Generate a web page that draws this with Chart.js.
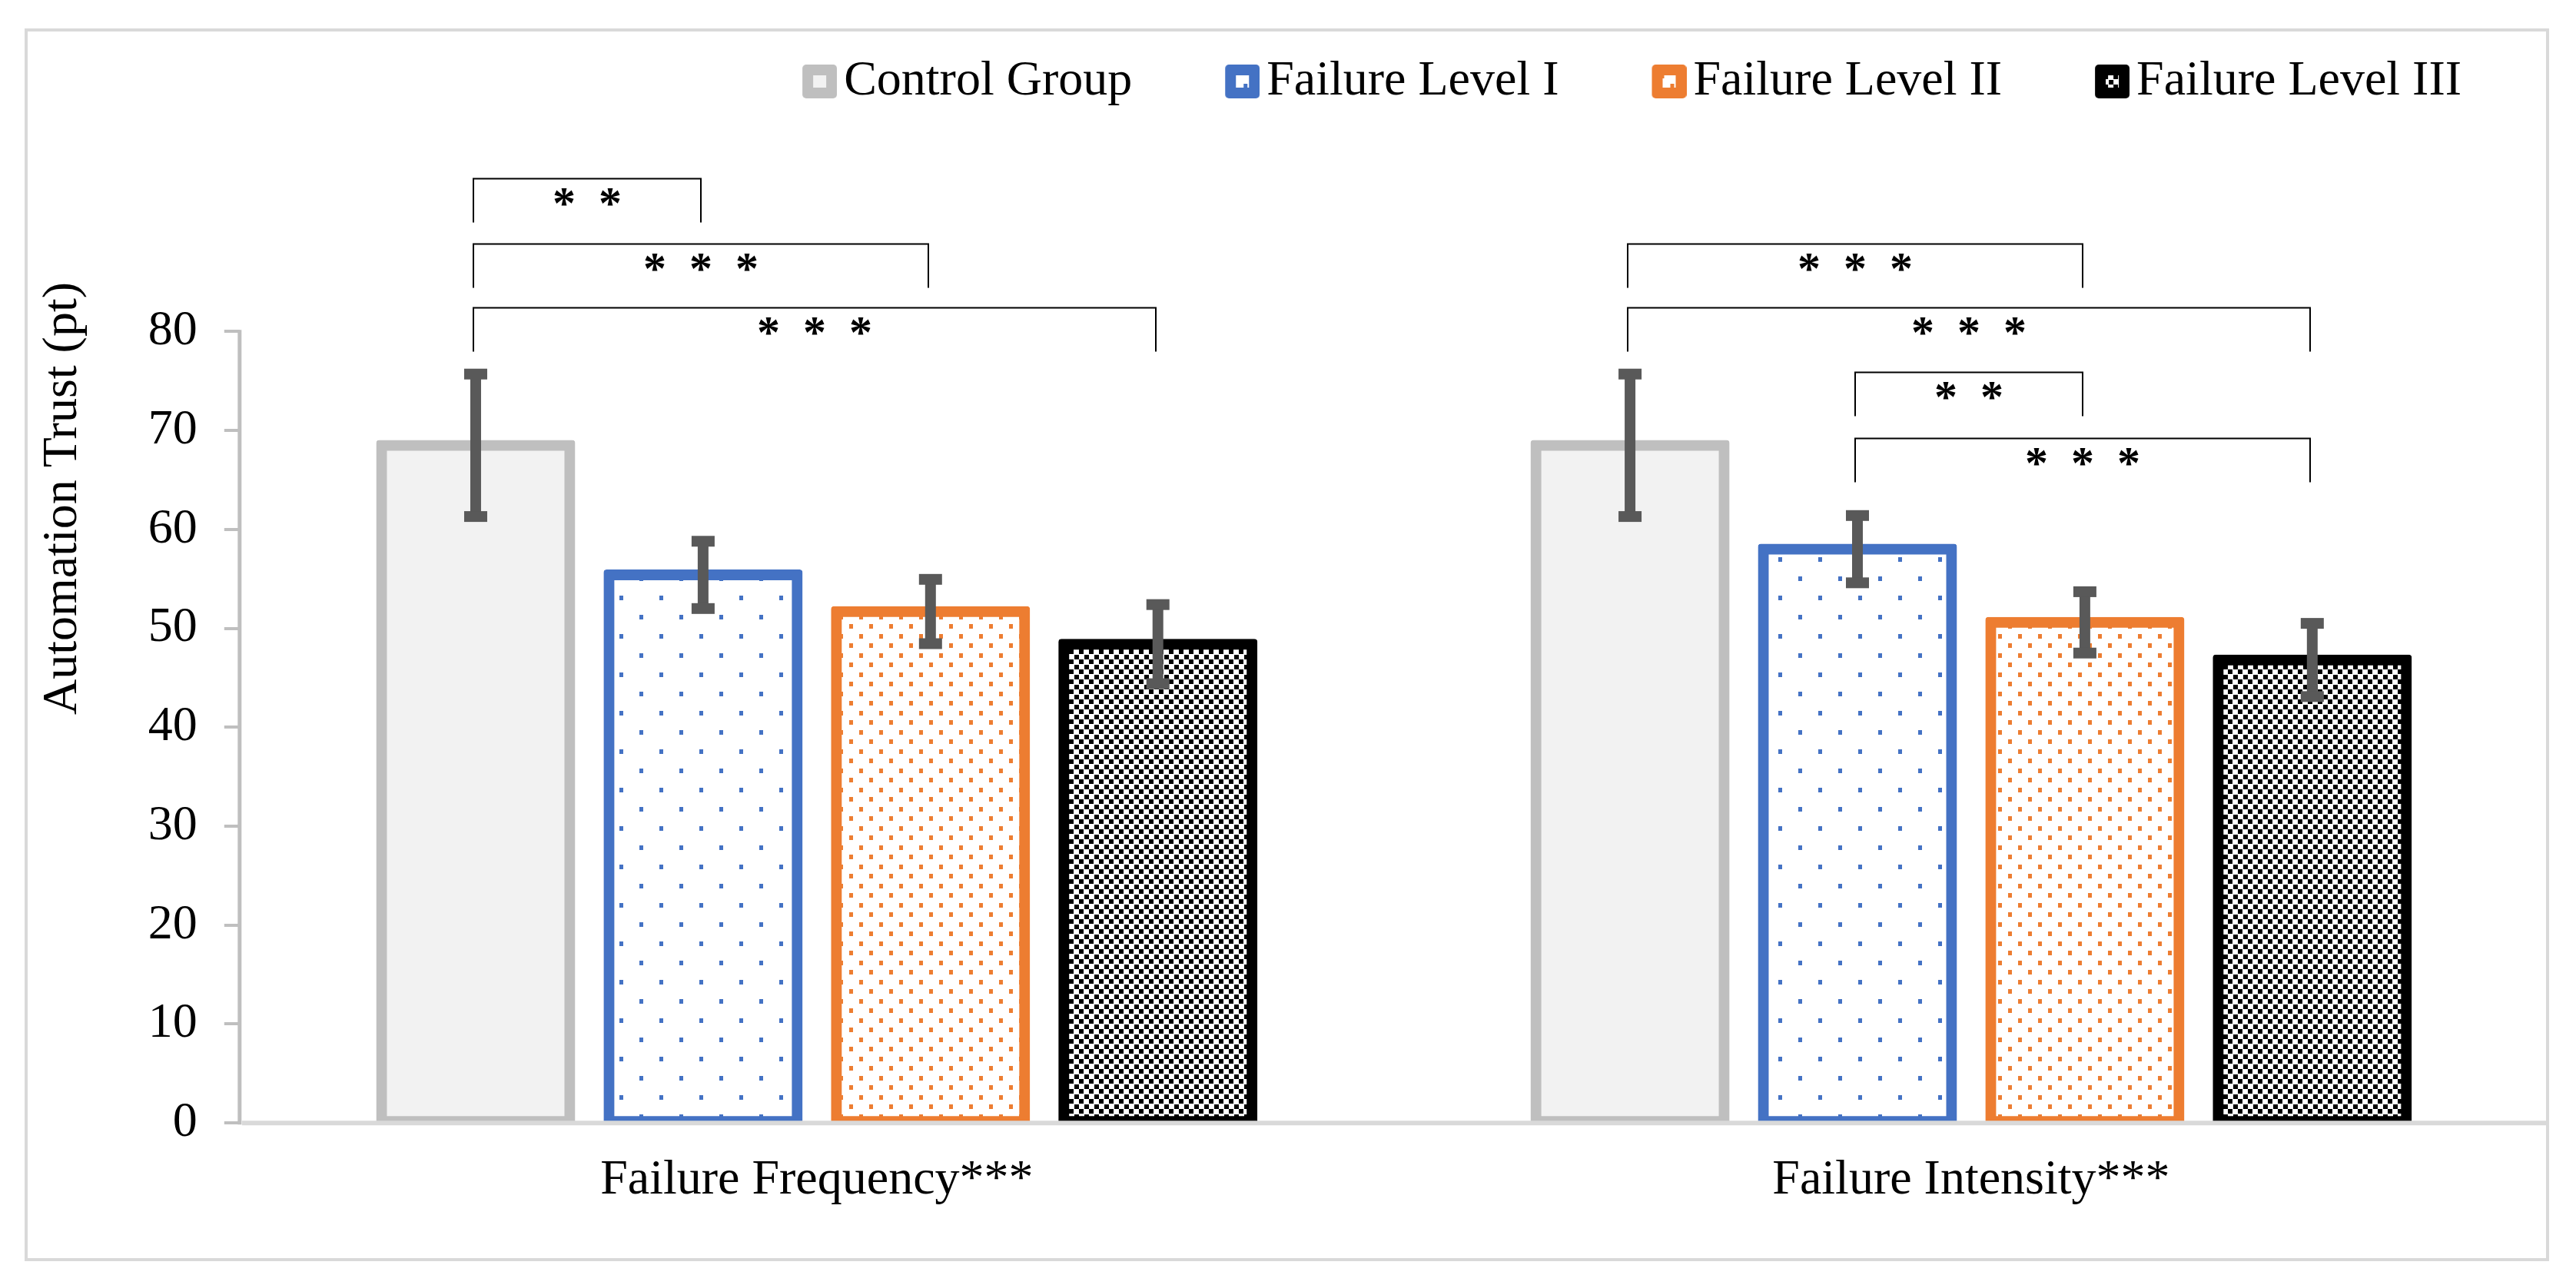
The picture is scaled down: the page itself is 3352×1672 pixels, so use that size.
<!DOCTYPE html>
<html>
<head>
<meta charset="utf-8">
<script src="https://cdn.jsdelivr.net/npm/chart.js@4/dist/chart.umd.min.js"></script>
<style>
  html, body { margin: 0; padding: 0; background: #ffffff; overflow: hidden; }
  canvas { display: block; }
</style>
</head>
<body>
<canvas id="c" width="3352" height="1672"></canvas>
<script>
// ---------------- data ----------------
const categories = ['Failure Frequency***', 'Failure Intensity***'];
const seriesNames = ['Control Group', 'Failure Level I', 'Failure Level II', 'Failure Level III'];

const controlMeans = [68.5, 68.5];
const controlErr   = [7.2, 7.2];
const level1Means  = [55.4, 58.0];
const level1Err    = [3.4, 3.4];
const level2Means  = [51.7, 50.6];
const level2Err    = [3.25, 3.1];
const level3Means  = [48.4, 46.8];
const level3Err    = [4.0, 3.7];

const yTickValues = [0, 10, 20, 30, 40, 50, 60, 70, 80];
const yAxisTitle = 'Automation Trust (pt)';

// significance brackets: category index, from series, to series, bracket height (pt), label
const sigGroup = [0, 0, 0, 1, 1, 1, 1];
const sigFrom  = [0, 0, 0, 0, 0, 1, 1];
const sigTo    = [1, 2, 3, 2, 3, 2, 3];
const sigLevel = [95.5, 88.9, 82.4, 88.9, 82.4, 75.9, 69.2];
const sigLabel = ['*  *', '*  *  *', '*  *  *', '*  *  *', '*  *  *', '*  *', '*  *  *'];

// ---------------- styles ----------------
const FONT = "'Liberation Serif', 'Times New Roman', Times, serif";
Chart.defaults.font.family = FONT;
Chart.defaults.color = '#000000';

function makeTile(w, h, bg, fg, dots) {
  const c = document.createElement('canvas');
  c.width = w; c.height = h;
  const g = c.getContext('2d');
  g.fillStyle = bg; g.fillRect(0, 0, w, h);
  g.fillStyle = fg;
  dots.forEach(d => g.fillRect(d[0], d[1], d[2], d[3]));
  return c;
}
const tiles = [
  makeTile(4, 4, '#f2f2f2', '#f2f2f2', []),
  makeTile(52, 50, '#ffffff', '#4472c4', [[0, 0, 5, 6], [26, 25, 5, 6]]),
  makeTile(26, 25, '#ffffff', '#ed7d31', [[0, 0, 5, 6], [13, 12, 5, 6]]),
  makeTile(13, 13, '#ffffff', '#000000', [[0, 0, 6, 6], [7, 7, 6, 6]])
];
const patternCtx = document.createElement('canvas').getContext('2d');
const fills = tiles.map((t, i) => i === 0 ? '#f2f2f2' : patternCtx.createPattern(t, 'repeat'));
const borders = ['#bfbfbf', '#4472c4', '#ed7d31', '#000000'];
const meansList = [controlMeans, level1Means, level2Means, level3Means];
const errList = [controlErr, level1Err, level2Err, level3Err];

// legend swatches: rounded colour square with a small patterned window, drawn at the right of the image
function makeSwatch(i) {
  const c = document.createElement('canvas');
  c.width = 47; c.height = 44;
  const g = c.getContext('2d');
  g.fillStyle = borders[i];
  g.beginPath();
  if (g.roundRect) g.roundRect(2, 0, 45, 44, 5); else g.rect(2, 0, 45, 44);
  g.fill();
  g.fillStyle = g.createPattern(tiles[i], 'repeat');
  g.fillRect(16, 14, 17, 16);
  return c;
}
const swatches = [0, 1, 2, 3].map(makeSwatch);

// ---------------- plugins ----------------
const framePlugin = {
  id: 'frame',
  beforeDraw(chart) {
    const ctx = chart.ctx;
    ctx.save();
    ctx.fillStyle = '#ffffff';
    ctx.fillRect(0, 0, chart.width, chart.height);
    ctx.strokeStyle = '#d9d9d9';
    ctx.lineWidth = 4;
    ctx.strokeRect(34, 39, chart.width - 71, chart.height - 72);
    ctx.restore();
  }
};

const LEGEND_BAND = 367;   // height reserved on top (legend + annotation room)
const LEGEND_TOP = -68;    // legend row placement
const LEGEND_RIGHT = 3345;
const legendSpacePlugin = {
  id: 'legendSpace',
  beforeLayout(chart) {
    const lg = chart.legend;
    if (lg && !lg._bandPatched) {
      const fit = lg.fit;
      lg.fit = function () { fit.call(this); this.height = LEGEND_BAND; };
      lg._bandPatched = true;
    }
  },
  afterLayout(chart) {
    const lg = chart.legend;
    if (lg) {
      lg.top = LEGEND_TOP; lg.bottom = lg.top + lg.height;
      lg.right = LEGEND_RIGHT;
    }
  }
};

const axisLinesPlugin = {
  id: 'axisLines',
  afterDatasetsDraw(chart) {
    const y = chart.scales.y;
    const ctx = chart.ctx;
    const area = chart.chartArea;
    const y0 = y.getPixelForValue(yTickValues[0]);
    ctx.save();
    // value axis line (0 .. top tick)
    ctx.strokeStyle = '#bfbfbf';
    ctx.lineWidth = 5;
    ctx.beginPath();
    ctx.moveTo(area.left, y0 + 2);
    ctx.lineTo(area.left, y.getPixelForValue(yTickValues[yTickValues.length - 1]) - 2);
    ctx.stroke();
    // category axis line, drawn over the bar bottoms
    ctx.strokeStyle = '#d9d9d9';
    ctx.lineWidth = 6;
    ctx.beginPath();
    ctx.moveTo(area.left + 3, y0);
    ctx.lineTo(area.right, y0);
    ctx.stroke();
    ctx.restore();
  }
};

const errorBarPlugin = {
  id: 'errorBars',
  afterDatasetsDraw(chart) {
    const ctx = chart.ctx;
    const y = chart.scales.y;
    ctx.save();
    ctx.strokeStyle = '#595959';
    ctx.fillStyle = '#595959';
    ctx.lineWidth = 14;
    chart.data.datasets.forEach((ds, i) => {
      const meta = chart.getDatasetMeta(i);
      meta.data.forEach((bar, j) => {
        const m = meansList[i][j], e = errList[i][j];
        const yTop = y.getPixelForValue(m + e);
        const yBot = y.getPixelForValue(m - e);
        ctx.beginPath();
        ctx.moveTo(bar.x, yTop);
        ctx.lineTo(bar.x, yBot);
        ctx.stroke();
        ctx.fillRect(bar.x - 15, yTop - 7, 30, 14);
        ctx.fillRect(bar.x - 15, yBot - 7, 30, 14);
      });
    });
    ctx.restore();
  }
};

const bracketPlugin = {
  id: 'brackets',
  afterDraw(chart) {
    const ctx = chart.ctx;
    const y = chart.scales.y;
    ctx.save();
    ctx.strokeStyle = '#000000';
    ctx.fillStyle = '#000000';
    ctx.lineWidth = 2;
    ctx.font = 'bold 60px ' + FONT;
    ctx.textAlign = 'center';
    ctx.textBaseline = 'alphabetic';
    const drop = 57;
    sigLevel.forEach((lvl, k) => {
      const b1 = chart.getDatasetMeta(sigFrom[k]).data[sigGroup[k]];
      const b2 = chart.getDatasetMeta(sigTo[k]).data[sigGroup[k]];
      const x1 = Math.round(b1.x) - 3, x2 = Math.round(b2.x) - 3;
      const yt = Math.round(y.getPixelForValue(lvl)) + 0.5;
      ctx.beginPath();
      ctx.moveTo(x1, yt + drop);
      ctx.lineTo(x1, yt);
      ctx.lineTo(x2, yt);
      ctx.lineTo(x2, yt + drop);
      ctx.stroke();
      ctx.fillText(sigLabel[k], (x1 + x2) / 2, yt + 51);
    });
    ctx.restore();
  }
};

// ---------------- chart ----------------
const datasets = seriesNames.map((name, i) => ({
  label: name,
  data: meansList[i],
  backgroundColor: fills[i],
  borderColor: borders[i],
  borderWidth: 14,
  borderSkipped: false,
  borderRadius: 4,
  inflateAmount: 7,
  categoryPercentage: 0.788,
  barPercentage: 0.828
}));

new Chart(document.getElementById('c'), {
  type: 'bar',
  data: { labels: categories, datasets },
  options: {
    responsive: false,
    animation: false,
    devicePixelRatio: 1,
    events: [],
    layout: { padding: { left: 33, right: 36, top: 0, bottom: 68 } },
    plugins: {
      tooltip: { enabled: false },
      legend: {
        position: 'top',
        align: 'end',
        labels: {
          usePointStyle: true,
          pointStyleWidth: 1,
          boxHeight: 44,
          padding: 142,
          color: '#000000',
          font: { size: 64, family: FONT },
          generateLabels(chart) {
            return chart.data.datasets.map((ds, i) => ({
              text: ds.label,
              fillStyle: borders[i],
              strokeStyle: borders[i],
              lineWidth: 0,
              pointStyle: swatches[i],
              fontColor: '#000000',
              hidden: false,
              datasetIndex: i
            }));
          }
        }
      }
    },
    scales: {
      x: {
        grid: { display: false },
        border: { display: false },
        ticks: { font: { size: 64, family: FONT }, color: '#000000', padding: 29 }
      },
      y: {
        min: 0,
        max: 85,
        afterBuildTicks(scale) { scale.ticks = yTickValues.map(v => ({ value: v })); },
        grid: { drawOnChartArea: false, drawTicks: true, tickLength: 20, color: '#bfbfbf', lineWidth: 4 },
        border: { display: false },
        ticks: { font: { size: 64, family: FONT }, color: '#000000', padding: 35 },
        title: {
          display: true,
          text: yAxisTitle,
          align: 'end',
          color: '#000000',
          font: { size: 64, family: FONT },
          padding: { top: 11, bottom: 37 }
        }
      }
    }
  },
  plugins: [framePlugin, legendSpacePlugin, axisLinesPlugin, errorBarPlugin, bracketPlugin]
});
</script>
</body>
</html>
